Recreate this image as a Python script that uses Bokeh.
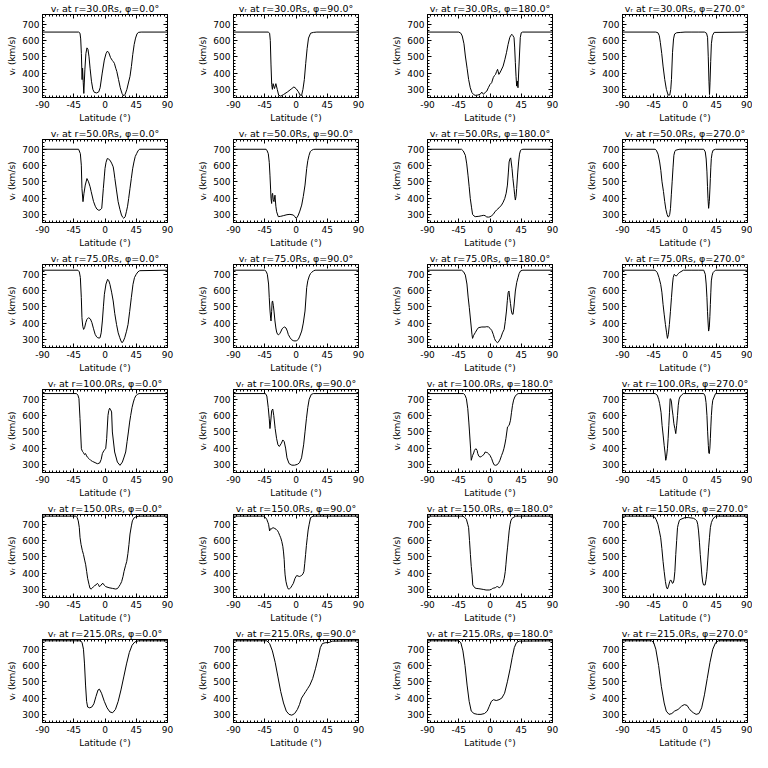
from bokeh.plotting import figure
from bokeh.layouts import gridplot
from bokeh.models import FixedTicker, LinearAxis
from bokeh.embed import file_html
from bokeh.resources import INLINE

# ---------------- data ----------------
radii = [30, 50, 75, 100, 150, 215]
phis = [0, 90, 180, 270]
x_ticks = [-90, -45, 0, 45, 90]
y_ticks = [300, 400, 500, 600, 700]

lat_30_0 = [-90,-38,-36,-35,-34,-33,-32.3,-31.3,-30.5,-29,-27.5,-26,-24.5,-23,-21.5,-19.5,-17.5,-15.5,-12,-9,-7,-4,-1,1.5,3.5,5.5,8,10.5,12,13.5,15.5,17,19.5,22,24.5,27,29,31.5,34,36,38,40,42,44,46,48,52,90]
v_30_0 = [652,652,645,610,520,360,430,340,275,420,520,555,545,500,430,350,300,282,278,285,310,400,480,520,535,525,495,478,470,460,430,410,360,310,275,260,270,300,345,380,440,515,575,615,640,650,652,652]

lat_30_90 = [-90,-40,-38,-37,-36,-35,-34,-33,-32,-31,-29,-27,-25,-22,-18,-12,-6,-3,0,3,6,8,10,12,14,16,18,21,25,30,90]
v_30_90 = [652,652,645,600,450,330,300,335,320,305,335,300,265,258,268,285,305,315,305,288,265,262,300,360,460,550,615,645,650,652,652]

lat_30_180 = [-90,-45,-42,-40,-37.5,-35.5,-33,-30.8,-28.4,-26,-23.5,-21.3,-17.5,-14.2,-11.8,-9.5,-7.1,-4.5,-2.4,0,2.4,4.7,6.5,8,9.5,10.9,12.8,14,15.6,18.9,21.5,23.7,26,28.4,30,31.7,33,34.6,35.5,36.5,37.5,38.4,39.3,40.3,41.7,43.6,45,47,90]
v_30_180 = [652,652,645,628,580,505,430,361,310,280,268,263,265,270,283,270,280,290,310,330,341,372,385,392,410,423,392,400,413,443,485,525,575,618,632,638,630,618,560,464,380,320,351,310,443,618,648,652,652]

lat_30_270 = [-90,-42,-39,-37,-35.5,-33.5,-31.6,-29.2,-26.8,-24.3,-21.9,-20.5,-19.5,-18,-16.5,-15,-12,-6,0,10,20,28,31,32.5,33.5,34.5,35.3,36,37,38,39.5,42,90]
v_30_270 = [652,652,648,630,587,520,443,361,300,265,265,300,361,525,610,640,648,650,652,652,652,652,645,620,500,350,268,340,470,580,630,650,652]

lat_50_0 = [-90,-38,-35.5,-34.1,-33.2,-31.7,-30.3,-28.4,-26,-23.7,-21.5,-19.9,-16.6,-14,-11.8,-9,-7.1,-4.7,-3.5,-2.4,-1,0,1.5,3.3,5,7.1,9.5,11.8,13,14.2,16.5,18.9,21.5,23.7,25.5,27,29,30.8,32.5,34.1,36,37.9,39.8,41.7,43.5,45.5,47.5,49.7,90]
v_50_0 = [700,700,673,602,459,378,429,480,520,500,470,440,380,350,333,325,327,337,400,459,530,582,620,643,640,633,615,592,560,520,450,378,330,296,282,276,285,316,350,398,460,520,580,622,655,673,690,700,700]

lat_50_90 = [-90,-43,-41.5,-39.9,-38.5,-37.5,-36.5,-36,-35.1,-34.4,-33.7,-32.7,-31.7,-30.3,-29,-27.9,-25.5,-22,-18.3,-13,-8.7,-3.8,-1.5,0,1.5,3.4,5.5,8.2,10.5,13,15.4,17,18.8,20.5,22.6,25,27.4,90]
v_50_90 = [700,700,690,673,620,541,450,398,367,420,429,390,378,418,350,316,286,288,292,298,300,296,285,276,280,296,320,357,410,480,582,630,663,685,694,699,700,700]

lat_50_180 = [-90,-41,-38.5,-35.5,-33.5,-31.7,-30,-28.4,-26.5,-25.1,-23,-21.3,-16,-11.8,-9,-7.1,-4.7,-2,0,2.5,4.7,7,9.5,13,16.6,19,21.3,23.3,25.1,26.5,27.5,28.7,29.8,31.7,33,34.6,35.5,36.5,37.5,38.4,40,41.2,42.5,44,45.5,47.4,90]
v_50_180 = [700,700,690,663,610,541,470,398,340,300,290,286,288,292,294,292,284,283,285,292,300,315,327,340,357,375,398,430,480,560,622,640,647,582,520,459,420,388,410,459,560,622,670,694,698,700,700]

lat_50_270 = [-90,-43,-41.3,-38.8,-36.5,-34.8,-33.1,-31,-29.2,-27.5,-25.8,-24.5,-23.3,-22,-20.9,-19.7,-18.5,-17.2,-16,-14.8,-13.6,-10,-7.3,0,10,20,27,29.2,30.5,31.6,32.4,33.1,34,35,35.8,36.5,37.2,37.9,39,40.4,43.8,90]
v_50_270 = [700,700,694,670,622,570,500,440,378,330,300,285,286,300,337,420,500,590,663,685,694,698,700,700,700,700,700,684,640,561,470,398,337,378,450,520,590,643,675,694,700,700]

lat_75_0 = [-90,-39,-37,-35.5,-34.1,-33.2,-32,-30.8,-29.4,-27.5,-26,-23.7,-21,-18.9,-16.5,-14.2,-12,-10.4,-8.5,-7.1,-5.5,-3.8,-2.3,-0.9,1.4,3.8,5.5,7.1,9.5,11.8,14,16.6,19,21.3,23,24.6,26.5,28.4,31,33.2,35.5,37.9,40.3,42.5,45,47.5,50,90]
v_75_0 = [725,725,715,680,556,433,380,361,372,405,423,433,425,403,365,331,315,310,308,310,340,413,500,577,640,669,660,638,590,536,460,392,340,310,290,279,290,310,350,392,470,556,638,680,700,715,722,725]

lat_75_90 = [-90,-45,-43,-41.3,-39.5,-38.5,-37.5,-36.5,-36,-35.1,-34.4,-33.7,-32.7,-31.7,-30.3,-29,-27.9,-26.5,-25,-23.5,-22.1,-20,-18.3,-16.5,-14.4,-12.5,-11.1,-8.5,-6.3,-4,-1.4,1,3.4,5.5,8.2,10.5,13,15.4,17,19.2,21,22.6,25,27.4,90]
v_75_90 = [725,725,718,700,640,556,480,430,413,470,530,536,510,474,413,370,345,331,328,335,345,365,372,376,370,351,330,310,298,292,290,292,300,320,351,400,474,618,660,690,705,712,720,725,725]

lat_75_180 = [-90,-41,-38,-35.5,-33.2,-31.5,-29.8,-27.9,-26,-25.1,-23.5,-21.3,-19,-16.6,-11.8,-7,-4.7,-2,0,2.5,4.7,6.5,8.1,10.9,13,15.6,18,20.4,22,23.7,25,26.1,27.3,28.4,29.5,30.8,32,33.2,34.6,36.5,38.5,40.3,42,44.1,47.4,90]
v_75_180 = [725,725,715,695,640,560,495,413,331,306,325,341,358,372,376,376,378,376,368,355,331,305,290,279,290,310,340,361,410,474,540,587,597,556,520,474,455,454,505,597,650,679,705,721,725,725]

lat_75_270 = [-90,-43,-39.9,-37.5,-35,-33.3,-31.6,-30,-28.2,-26.5,-25.3,-24,-22.5,-21,-19.5,-18,-17,-15.5,-14.6,-13.3,-12.2,-11,-9.7,-7.5,-5.8,-2.4,10,20,27,29.2,30.5,31.6,32.4,33.1,34,35,35.8,36.5,37.2,37.9,39,40.4,43.8,90]
v_75_270 = [725,725,710,680,638,590,515,455,392,340,306,330,392,470,556,640,679,700,696,690,690,697,704,712,716,725,725,725,725,700,640,556,470,413,351,372,440,515,590,659,690,710,725,725]

lat_100_0 = [-90,-41,-39,-37.5,-36,-34,-32.5,-31,-29.5,-28,-26.5,-25.5,-23,-20.7,-18,-15.9,-13,-11,-7.7,-5.5,-3.8,-1.4,1,2.4,4.3,5.5,6.7,8.2,9.5,10.6,13.9,17.8,21.6,25,27.5,29.8,31.8,33.7,35.5,37,39,40.9,42.5,44.2,46.5,49,90]
v_100_0 = [735,735,725,704,581,396,380,372,360,366,352,345,335,325,318,314,308,304,308,330,366,386,396,458,601,632,645,635,622,499,376,314,294,314,345,376,440,499,560,601,650,683,705,720,730,735,735]

lat_100_90 = [-90,-44,-42,-40,-38.5,-37.5,-36.5,-35,-33.5,-32,-30,-28,-26,-24,-21,-19,-17,-15,-13,-10,-6,-2,2,5,8,11,13,15,17,19,22,25,90]
v_100_90 = [735,735,720,650,580,520,560,630,640,600,520,460,420,410,430,450,440,400,340,305,295,295,300,310,340,420,500,580,650,700,730,735,735]

lat_100_180 = [-90,-38,-36,-34,-32,-30.5,-29.5,-28,-27,-26,-25,-23.5,-22.4,-21,-20,-18.5,-17.6,-16,-14.3,-12.5,-10.5,-8.5,-7,-5.5,-3.8,-2,0,2.4,4,5.7,8,10.5,12.5,14.3,16.7,18.5,20,21.5,22.9,25.2,27.6,29.5,31,32.4,34,35.7,38,40.5,90]
v_100_180 = [735,735,725,704,642,560,499,400,325,340,355,370,386,394,396,385,366,350,345,348,355,362,376,374,372,365,355,335,315,298,294,298,310,325,355,375,396,425,458,530,540,571,620,663,695,714,728,735,735]

lat_100_270 = [-90,-43,-40,-38,-36.5,-34.5,-33,-31.5,-30,-28.7,-27.7,-26.5,-25.3,-24.3,-23.3,-22.3,-21.4,-20.4,-19.5,-18.5,-17.3,-16,-14.6,-13.3,-12,-10.8,-9.7,-8.5,-7.3,-4.5,-2.4,10,20,27,29,30.3,31.6,32.6,33.6,34.3,35,35.8,36.5,37.2,38,39,40,44,90]
v_100_270 = [735,735,725,700,673,620,540,480,417,370,325,350,396,460,540,620,704,700,683,640,601,550,520,489,540,600,663,700,714,728,735,735,735,735,720,680,600,500,417,370,366,400,458,530,601,660,694,735,735]

lat_150_0 = [-90,-42,-40,-38.5,-37,-36,-34.5,-32.7,-31,-29.3,-27.8,-26.4,-25,-23,-21.6,-20,-18.3,-16.5,-14.9,-13,-11,-9.5,-8.2,-6.2,-4.5,-2.9,-1,1,5.8,10.6,15.4,18,20,22,24,26,27.4,29.5,31.3,33,34.5,36,38,39.4,42,44,49,90]
v_150_0 = [750,750,740,721,680,620,576,540,514,480,451,410,368,330,306,302,308,317,323,327,337,330,317,323,333,337,325,317,310,306,302,305,317,330,348,380,410,445,472,520,576,640,690,721,740,745,750,750]

lat_150_90 = [-90,-47,-44,-42,-40.5,-39.5,-38,-37,-36,-34.5,-33,-30.5,-28.6,-26.5,-25,-23.5,-22,-20.5,-19,-18,-17,-16.4,-15.7,-14.5,-13.3,-12,-11,-9.5,-7.6,-5.5,-3.8,-1.4,1,3,4.8,6.5,8,10,11.4,12.6,13.8,15,16.2,17.5,19,21,24.8,90]
v_150_90 = [750,750,742,729,712,700,659,672,669,675,679,674,669,660,648,632,617,595,565,530,482,430,389,350,327,310,302,303,310,325,337,368,385,382,379,382,385,395,410,460,514,570,617,665,700,741,750,750]

lat_150_180 = [-90,-39,-36.5,-34,-32,-30.8,-29.5,-28.2,-27,-25.8,-24.8,-22,-20,-16,-12.9,-9,-5.7,-1,2,3.8,5.5,7.6,9.5,11,13.3,15,17,18.8,20.5,22,22.9,24,25.2,26.5,27.6,29,30,31.5,33.3,37,90]
v_150_180 = [750,750,742,731,700,679,600,514,440,389,327,310,306,304,302,299,296,296,300,306,308,310,316,317,310,315,323,340,368,410,451,505,555,610,659,700,721,735,741,750,750]

lat_150_270 = [-90,-46,-43.8,-41.5,-39,-37,-35,-33.3,-31.6,-30,-28.2,-26.8,-25.3,-23.7,-22,-20.8,-19.5,-18.2,-17,-15.8,-14.6,-13.3,-12,-10.8,-9.7,-8,-5.8,0,4.9,12,15,17,18.3,19.5,20.8,22,23.2,24.3,25.5,26.7,29,30.3,31.6,32.8,34,35.3,36.5,38,40,44,90]
v_150_270 = [750,750,745,728,700,660,617,550,472,410,348,315,302,320,348,358,352,337,340,358,410,514,600,679,700,725,731,741,741,737,730,721,700,659,590,514,450,389,345,327,327,360,410,480,555,620,679,710,731,750,750]

lat_215_0 = [-90,-35,-33,-31,-29.5,-28,-26.5,-25,-22,-19,-16,-13,-10,-8,-5,-1,3,7,11,15,19,23,27,31,35,39,43,48,90]
v_215_0 = [752,752,740,700,610,480,380,345,340,345,365,410,450,455,430,380,340,315,310,330,380,450,530,610,680,725,745,752,752]

lat_215_90 = [-90,-42,-38,-34,-30,-26,-22,-18,-14,-10,-6,-2,2,5,8,11,14,17,20,24,28,32,35,38,42,48,52,90]
v_215_90 = [752,752,735,690,620,530,440,370,320,300,295,305,330,360,400,420,440,460,480,520,580,650,710,735,740,742,750,752]

lat_215_180 = [-90,-45,-42,-39,-36,-33,-30,-27,-23,-18,-13,-8,-4,-1,2,5,9,13,17,21,25,29,32,35,38,42,90]
v_215_180 = [752,752,740,690,600,480,380,320,305,300,300,305,320,350,380,390,385,390,400,430,500,580,650,710,740,750,752]

lat_215_270 = [-90,-48,-45,-42,-38,-34,-30,-27,-23,-19,-15,-10,-5,-1,3,6,9,12,16,20,24,28,32,36,40,44,48,90]
v_215_270 = [752,752,740,700,600,470,370,320,300,305,320,330,350,360,355,335,320,310,300,305,340,420,520,620,700,740,752,752]

series = {
    (30, 0): (lat_30_0, v_30_0), (30, 90): (lat_30_90, v_30_90),
    (30, 180): (lat_30_180, v_30_180), (30, 270): (lat_30_270, v_30_270),
    (50, 0): (lat_50_0, v_50_0), (50, 90): (lat_50_90, v_50_90),
    (50, 180): (lat_50_180, v_50_180), (50, 270): (lat_50_270, v_50_270),
    (75, 0): (lat_75_0, v_75_0), (75, 90): (lat_75_90, v_75_90),
    (75, 180): (lat_75_180, v_75_180), (75, 270): (lat_75_270, v_75_270),
    (100, 0): (lat_100_0, v_100_0), (100, 90): (lat_100_90, v_100_90),
    (100, 180): (lat_100_180, v_100_180), (100, 270): (lat_100_270, v_100_270),
    (150, 0): (lat_150_0, v_150_0), (150, 90): (lat_150_90, v_150_90),
    (150, 180): (lat_150_180, v_150_180), (150, 270): (lat_150_270, v_150_270),
    (215, 0): (lat_215_0, v_215_0), (215, 90): (lat_215_90, v_215_90),
    (215, 180): (lat_215_180, v_215_180), (215, 270): (lat_215_270, v_215_270),
}

# ---------------- layout ----------------
FONT = "DejaVu Sans"
col_widths = [191, 194, 195, 172]
FRAME_W = 125
LEFT = 42
PANEL_H = 125

x_minor = list(range(-90, 91, 5))
y_minor = list(range(260, 760, 20))


def style_axis(ax, show_labels):
    ax.axis_line_color = "black"
    ax.major_tick_line_color = "black"
    ax.minor_tick_line_color = "black"
    ax.major_tick_in = 4
    ax.major_tick_out = 0
    ax.minor_tick_in = 2
    ax.minor_tick_out = 0
    ax.major_label_text_font = FONT
    ax.major_label_text_font_size = "9px"
    ax.major_label_text_color = "black"
    ax.axis_label_text_font = FONT
    ax.axis_label_text_font_size = "9px"
    ax.axis_label_text_font_style = "normal"
    ax.axis_label_text_color = "black"
    if show_labels:
        ax.major_label_standoff = 3
        ax.axis_label_standoff = 2
    else:
        ax.major_label_standoff = 0


def make_panel(r, phi, w):
    lat, v = series[(r, phi)]
    p = figure(width=w, height=PANEL_H, x_range=(-90, 90), y_range=(250, 760),
               output_backend="svg", toolbar_location=None,
               min_border_left=LEFT, min_border_right=w - LEFT - FRAME_W,
               min_border_top=14, min_border_bottom=27)
    p.title.text = f"vᵣ at r={r:.1f}Rs, φ={phi:.1f}°"
    p.title.text_font = FONT
    p.title.text_font_size = "9.5px"
    p.title.text_font_style = "normal"
    p.title.text_color = "black"
    p.title.align = "center"
    p.title.standoff = 1
    p.xgrid.visible = False
    p.ygrid.visible = False
    p.outline_line_color = "black"
    p.outline_line_width = 1
    p.background_fill_color = "white"
    p.border_fill_color = "white"

    xa = p.xaxis[0]
    ya = p.yaxis[0]
    xa.ticker = FixedTicker(ticks=x_ticks, minor_ticks=x_minor)
    ya.ticker = FixedTicker(ticks=y_ticks, minor_ticks=y_minor)
    xa.major_label_overrides = {t: str(t) for t in x_ticks}
    xa.axis_label = "Latitude (°)"
    ya.axis_label = "vᵣ (km/s)"
    style_axis(xa, True)
    style_axis(ya, True)

    top = LinearAxis(ticker=FixedTicker(ticks=x_ticks, minor_ticks=x_minor),
                     major_label_overrides={t: "" for t in x_ticks})
    right = LinearAxis(ticker=FixedTicker(ticks=y_ticks, minor_ticks=y_minor),
                       major_label_overrides={t: "" for t in y_ticks})
    style_axis(top, False)
    style_axis(right, False)
    p.add_layout(top, "above")
    p.add_layout(right, "right")

    p.line(lat, v, line_color="black", line_width=1)
    return p


rows = []
for r in radii:
    rows.append([make_panel(r, phi, col_widths[j]) for j, phi in enumerate(phis)])

grid = gridplot(rows, toolbar_location=None)

open("out.html", "w").write(file_html(grid, INLINE))
